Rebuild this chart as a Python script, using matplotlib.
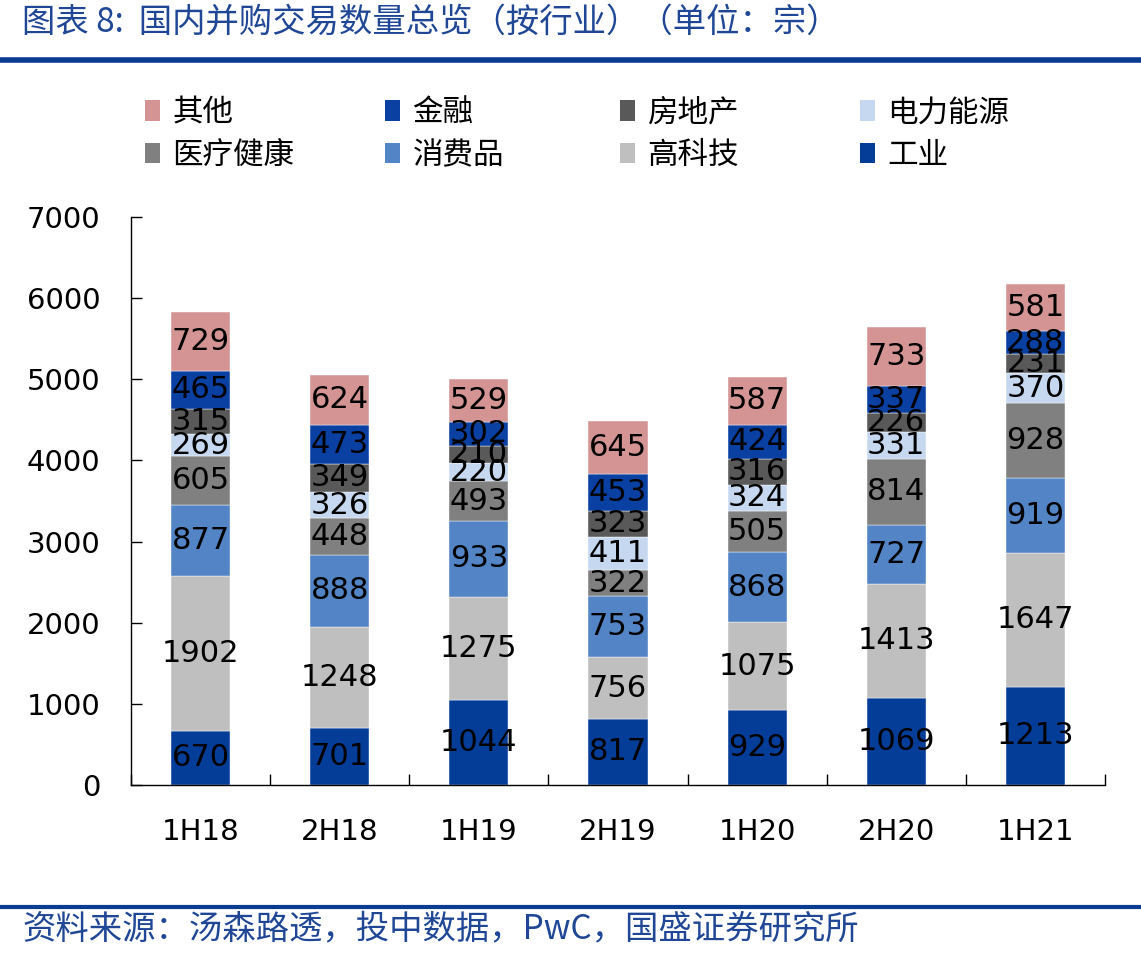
import numpy as np
import matplotlib.pyplot as plt
from matplotlib.patches import Patch
from matplotlib.lines import Line2D

plt.rcParams['font.family'] = ['DejaVu Sans', 'Noto Sans CJK SC']

periods = ["1H18", "2H18", "1H19", "2H19", "1H20", "2H20", "1H21"]

# bottom to top
industry = [670, 701, 1044, 817, 929, 1069, 1213]
hightech = [1902, 1248, 1275, 756, 1075, 1413, 1647]
consumer = [877, 888, 933, 753, 868, 727, 919]
health = [605, 448, 493, 322, 505, 814, 928]
energy = [269, 326, 220, 411, 324, 331, 370]
realestate = [315, 349, 210, 323, 316, 226, 231]
finance = [465, 473, 302, 453, 424, 337, 288]
other = [729, 624, 529, 645, 587, 733, 581]

series = [
    ("工业", industry, "#043D98"),
    ("高科技", hightech, "#BFBFBF"),
    ("消费品", consumer, "#5284C6"),
    ("医疗健康", health, "#808080"),
    ("电力能源", energy, "#C6D8EF"),
    ("房地产", realestate, "#595959"),
    ("金融", finance, "#0A40A2"),
    ("其他", other, "#D49494"),
]

W, H = 1141, 960
fig = plt.figure(figsize=(W / 100, H / 100), dpi=100)

def fx(px):
    return px / W

def fy(py):
    return 1 - py / H

ax = fig.add_axes([fx(131), fy(785), fx(1105 - 131), (785 - 217) / H])

x = np.arange(len(periods))
bottom = np.zeros(len(periods))
handles = {}
for name, vals, col in series:
    bars = ax.bar(x, vals, 0.425, bottom=bottom, color=col, label=name,
                  edgecolor="white", linewidth=0.3)
    ax.bar_label(bars, labels=[str(v) for v in vals], label_type="center",
                 fontsize=22, color="black")
    bottom += np.array(vals)
    handles[name] = Patch(facecolor=col)

ax.set_xlim(-0.5, 6.5)
ax.set_ylim(0, 7000)
ax.set_yticks(np.arange(0, 7001, 1000))
ax.set_xticks(x)
ax.set_xticklabels(periods)
ax.set_xticks(np.arange(-0.5, 7, 1), minor=True)
ax.tick_params(axis="y", direction="in", length=8, width=1, labelsize=21, pad=22)
ax.tick_params(axis="x", which="major", length=0, labelsize=21, pad=24)
ax.tick_params(axis="x", which="minor", direction="in", length=8, width=1)
for s in ["top", "right"]:
    ax.spines[s].set_visible(False)
for s in ["left", "bottom"]:
    ax.spines[s].set_linewidth(1)

# legend, one column at a time
legend_cols = [["其他", "医疗健康"], ["金融", "消费品"], ["房地产", "高科技"], ["电力能源", "工业"]]
col_x = [145, 385, 620, 860]
for names, px in zip(legend_cols, col_x):
    leg = fig.legend([handles[n] for n in names], names, loc="center left",
                     bbox_to_anchor=(fx(px), fy(134)), frameon=False,
                     prop={"family": ["Noto Sans CJK SC"], "size": 22},
                     handlelength=0.5, handleheight=0.65, handletextpad=0.4,
                     labelspacing=0.38, borderpad=0, borderaxespad=0)

blue = "#0A3D91"
fig.add_artist(Line2D([0, 1], [fy(60), fy(60)], color=blue, linewidth=4))
fig.add_artist(Line2D([0, 1], [fy(907), fy(907)], color=blue, linewidth=3))

fig.text(fx(22), fy(22), "图表 8:  国内并购交易数量总览（按行业）（单位：宗）",
         color="#1F4796", fontsize=24, style="italic", va="center", ha="left",
         family=["Noto Sans CJK SC"])
fig.text(fx(22), fy(929), "资料来源：汤森路透，投中数据，PwC，国盛证券研究所",
         color="#1F4796", fontsize=24, style="italic", va="center", ha="left",
         family=["Noto Sans CJK SC"])

fig.savefig("out.png", dpi=100)
